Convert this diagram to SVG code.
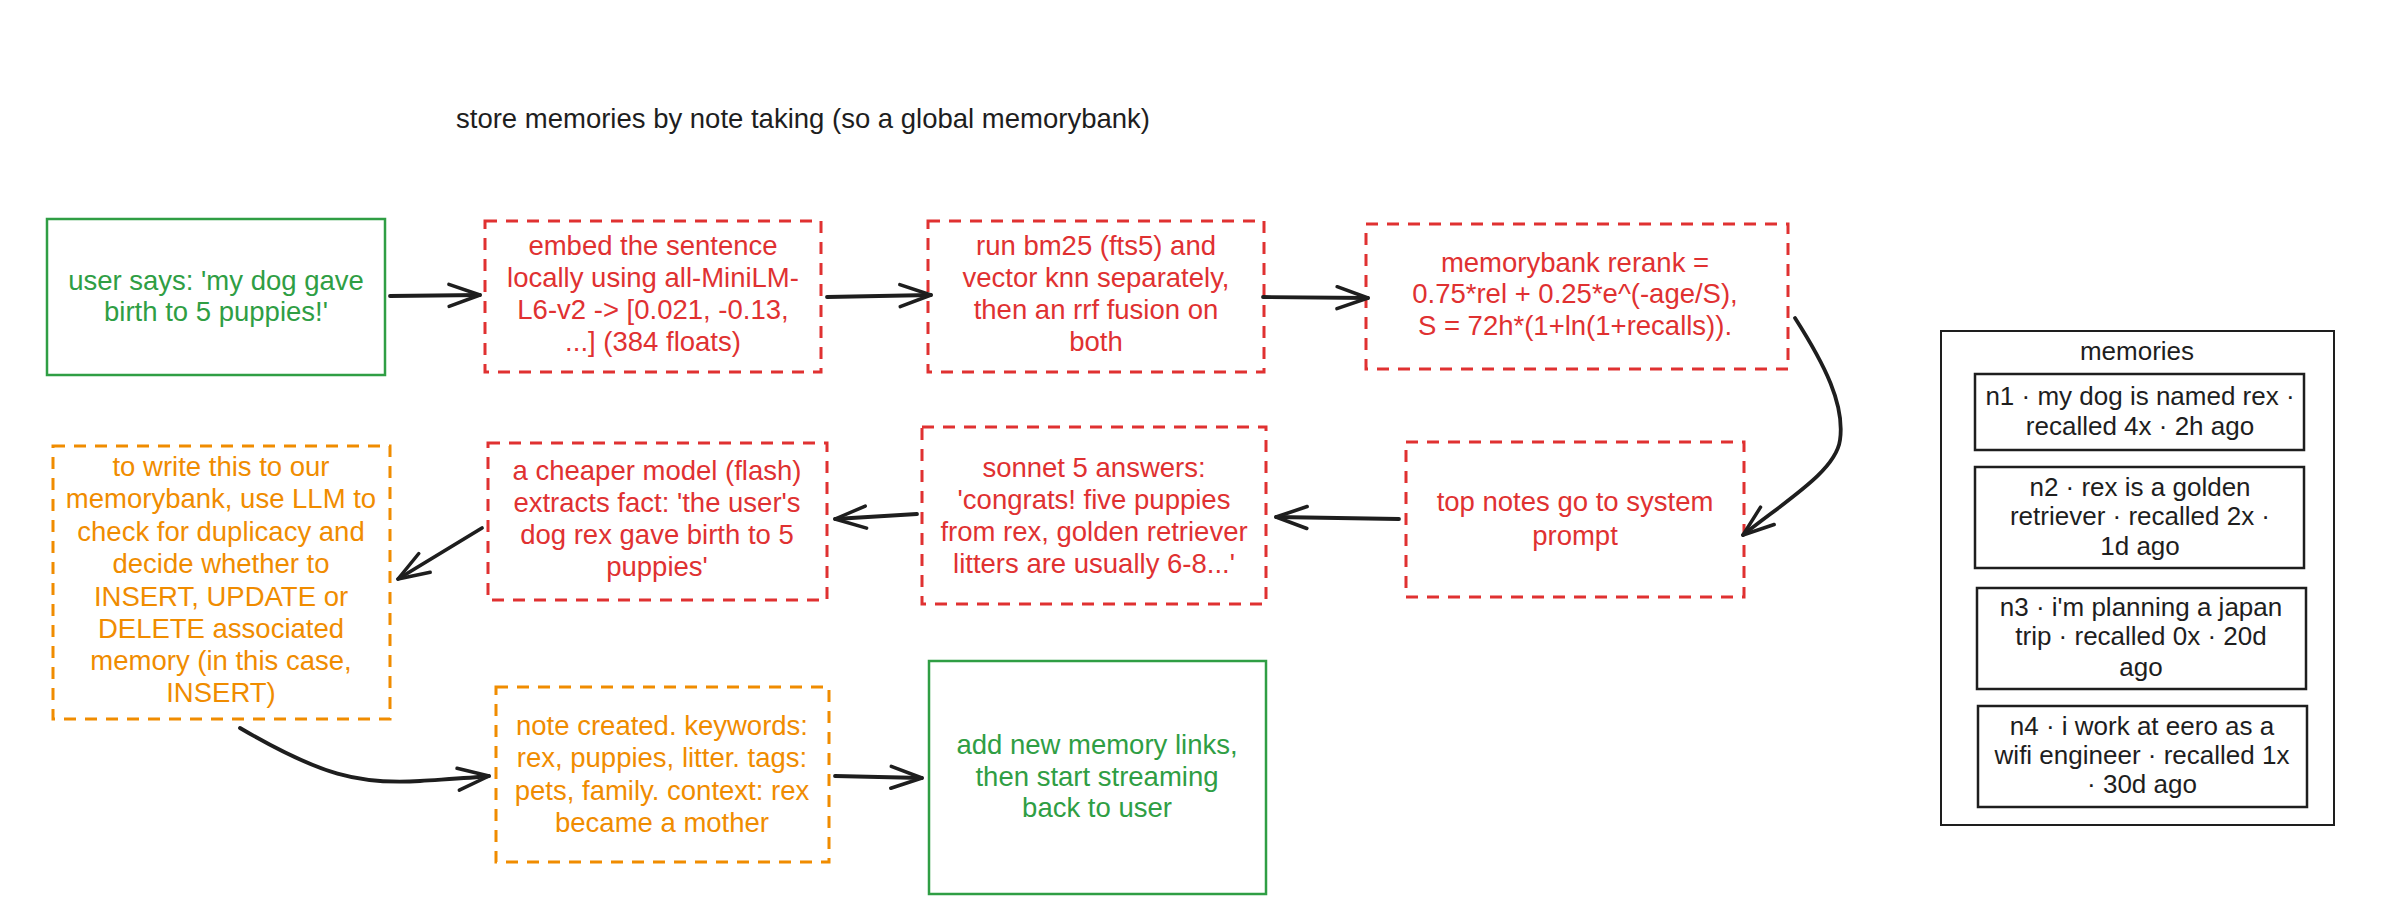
<svg xmlns="http://www.w3.org/2000/svg" width="2400" height="918" viewBox="0 0 2400 918">
<style>
text{font-family:"Liberation Sans",Arial,sans-serif;font-size:27.5px;text-anchor:middle}
.g{fill:#2f9e44}.r{fill:#e03131}.o{fill:#f08c00}.k{fill:#1e1e1e}
.bg{fill:#fff;stroke:#2f9e44;stroke-width:2.5}
.br{fill:#fff;stroke:#e03131;stroke-width:3;stroke-dasharray:12 9}
.bo{fill:#fff;stroke:#f08c00;stroke-width:3;stroke-dasharray:12 9}
.bk{fill:#fff;stroke:#1e1e1e;stroke-width:2.5}
.m text{font-size:26px}
.c path{fill:none;stroke:#1e1e1e;stroke-width:3.8;stroke-linecap:round;marker-end:url(#arr)}
</style>
<defs>
<marker id="arr" viewBox="-40 -16 46 32" refX="0" refY="0" markerWidth="46" markerHeight="32" markerUnits="userSpaceOnUse" orient="auto" overflow="visible">
<path d="M-31,-11 L0,0 L-31,11" fill="none" stroke="#1e1e1e" stroke-width="3.5" stroke-linecap="round" stroke-linejoin="round"/>
</marker>
</defs>
<rect width="2400" height="918" fill="#fff"/>
<text class="k" x="456" y="128" style="text-anchor:start">store memories by note taking (so a global memorybank)</text>

<g id="userSays">
<rect class="bg" x="47" y="219" width="338" height="156"/>
<text class="g" x="216" y="290">user says: 'my dog gave</text>
<text class="g" x="216" y="321">birth to 5 puppies!'</text>
</g>
<g id="embed">
<rect class="br" x="485" y="221" width="336" height="151"/>
<text class="r" x="653" y="255">embed the sentence</text>
<text class="r" x="653" y="287">locally using all-MiniLM-</text>
<text class="r" x="653" y="319">L6-v2 -&gt; [0.021, -0.13,</text>
<text class="r" x="653" y="351">...] (384 floats)</text>
</g>
<g id="bm25">
<rect class="br" x="928" y="221" width="336" height="151"/>
<text class="r" x="1096" y="255">run bm25 (fts5) and</text>
<text class="r" x="1096" y="287">vector knn separately,</text>
<text class="r" x="1096" y="319">then an rrf fusion on</text>
<text class="r" x="1096" y="351">both</text>
</g>
<g id="rerank">
<rect class="br" x="1366" y="224" width="422" height="145"/>
<text class="r" x="1575" y="272">memorybank rerank =</text>
<text class="r" x="1575" y="303">0.75*rel + 0.25*e^(-age/S),</text>
<text class="r" x="1575" y="335">S = 72h*(1+ln(1+recalls)).</text>
</g>
<g id="topNotes">
<rect class="br" x="1406" y="442" width="338" height="155"/>
<text class="r" x="1575" y="511">top notes go to system</text>
<text class="r" x="1575" y="545">prompt</text>
</g>
<g id="sonnet">
<rect class="br" x="922" y="427" width="344" height="177"/>
<text class="r" x="1094" y="477">sonnet 5 answers:</text>
<text class="r" x="1094" y="509">'congrats! five puppies</text>
<text class="r" x="1094" y="541">from rex, golden retriever</text>
<text class="r" x="1094" y="573">litters are usually 6-8...'</text>
</g>
<g id="extract">
<rect class="br" x="488" y="443" width="339" height="157"/>
<text class="r" x="657" y="480">a cheaper model (flash)</text>
<text class="r" x="657" y="512">extracts fact: 'the user's</text>
<text class="r" x="657" y="544">dog rex gave birth to 5</text>
<text class="r" x="657" y="576">puppies'</text>
</g>
<g id="dedupe">
<rect class="bo" x="53" y="446" width="337" height="273"/>
<text class="o" x="221" y="476">to write this to our</text>
<text class="o" x="221" y="508">memorybank, use LLM to</text>
<text class="o" x="221" y="541">check for duplicacy and</text>
<text class="o" x="221" y="573">decide whether to</text>
<text class="o" x="221" y="606">INSERT, UPDATE or</text>
<text class="o" x="221" y="638">DELETE associated</text>
<text class="o" x="221" y="670">memory (in this case,</text>
<text class="o" x="221" y="702">INSERT)</text>
</g>
<g id="noteCreated">
<rect class="bo" x="496" y="687" width="333" height="175"/>
<text class="o" x="662" y="735">note created. keywords:</text>
<text class="o" x="662" y="767">rex, puppies, litter. tags:</text>
<text class="o" x="662" y="800">pets, family. context: rex</text>
<text class="o" x="662" y="832">became a mother</text>
</g>
<g id="stream">
<rect class="bg" x="929" y="661" width="337" height="233"/>
<text class="g" x="1097" y="754">add new memory links,</text>
<text class="g" x="1097" y="786">then start streaming</text>
<text class="g" x="1097" y="817">back to user</text>
</g>

<g id="memories" class="m">
<rect x="1941" y="331" width="393" height="494" fill="#fff" stroke="#1e1e1e" stroke-width="2"/>
<text class="k" x="2137" y="360">memories</text>
<g id="n1">
<rect class="bk" x="1975" y="374" width="329" height="76"/>
<text class="k" x="2140" y="405">n1 · my dog is named rex ·</text>
<text class="k" x="2140" y="435">recalled 4x · 2h ago</text>
</g>
<g id="n2">
<rect class="bk" x="1975" y="467" width="329" height="101"/>
<text class="k" x="2140" y="496">n2 · rex is a golden</text>
<text class="k" x="2140" y="525">retriever · recalled 2x ·</text>
<text class="k" x="2140" y="555">1d ago</text>
</g>
<g id="n3">
<rect class="bk" x="1977" y="588" width="329" height="101"/>
<text class="k" x="2141" y="616">n3 · i'm planning a japan</text>
<text class="k" x="2141" y="645">trip · recalled 0x · 20d</text>
<text class="k" x="2141" y="676">ago</text>
</g>
<g id="n4">
<rect class="bk" x="1978" y="706" width="329" height="101"/>
<text class="k" x="2142" y="735">n4 · i work at eero as a</text>
<text class="k" x="2142" y="764">wifi engineer · recalled 1x</text>
<text class="k" x="2142" y="793">· 30d ago</text>
</g>
</g>

<g id="connectors" class="c">
<path d="M390,296 L480,295"/>
<path d="M827,297 L931,295"/>
<path d="M1263,297 L1368,298"/>
<path d="M1795,318 C1825,365 1845,405 1840,440 C1836,470 1790,498 1743,535"/>
<path d="M1399,519 L1276,517"/>
<path d="M917,514 L835,519"/>
<path d="M482,528 L398,579"/>
<path d="M240,728 C320,775 360,785 420,781 C450,779 470,778 489,776"/>
<path d="M835,776 L922,778"/>
</g>
</svg>
